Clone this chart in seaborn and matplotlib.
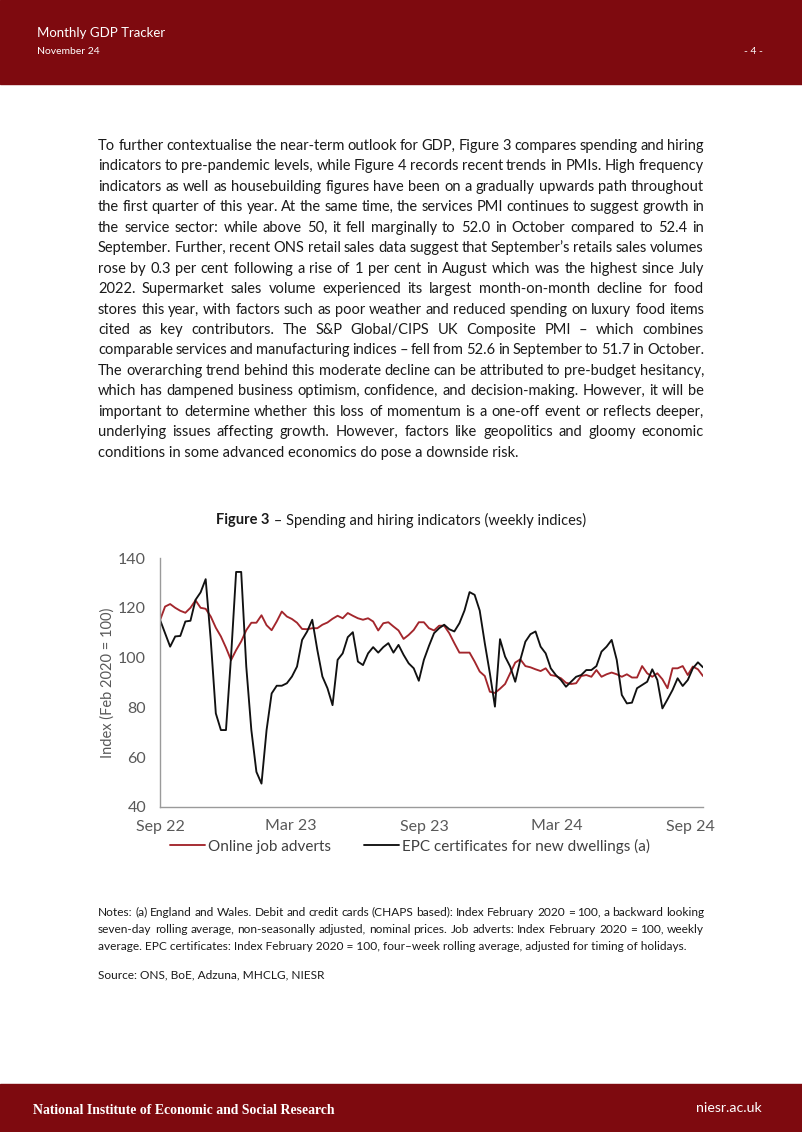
import math

import matplotlib
matplotlib.use("Agg")
import matplotlib.pyplot as plt
import matplotlib.dates as mdates
import pandas as pd
import seaborn as sns
from matplotlib.font_manager import FontProperties
from matplotlib.lines import Line2D
from matplotlib.patches import Rectangle

W, H = 802, 1132
DARK_RED = "#7e0a0f"
JOB_RED = "#a3262c"
BODY = "#1a1a1a"

# --- chart data (weekly indices, Feb 2020 = 100) ---
start_week = "2022-09-01"
job_adverts = [
    115.0, 120.5, 121.5, 120.0, 118.8, 118.0, 120.0, 123.0, 120.0, 119.6,
    116.5, 112.0, 108.5, 104.0, 99.0, 103.0, 106.5, 111.0, 114.0, 114.0,
    117.0, 113.0, 111.0, 114.5, 118.5, 116.5, 115.5, 114.0, 111.5, 111.4,
    111.8, 111.8, 113.2, 114.1, 115.6, 116.8, 115.8, 117.9, 116.8, 115.8,
    115.2, 115.8, 114.5, 110.9, 113.8, 114.2, 112.5, 110.9, 107.5, 109.1,
    111.1, 114.2, 114.2, 111.8, 110.9, 112.8, 112.8, 109.8, 105.8, 102.0,
    102.0, 102.0, 98.4, 94.4, 92.6, 86.3, 85.8, 87.5, 89.4, 93.7,
    98.0, 99.3, 96.6, 96.1, 95.3, 94.6, 95.7, 93.0, 92.6, 91.7,
    89.9, 89.4, 89.7, 92.6, 93.0, 92.3, 95.0, 92.3, 93.3, 94.0,
    93.3, 92.3, 93.3, 92.0, 92.0, 96.6, 93.7, 92.3, 93.7, 91.3,
    87.7, 95.7, 95.7, 96.6, 93.0, 96.4, 95.3, 92.6,
]
epc_certificates = [
    115.2, 109.8, 104.4, 108.5, 108.7, 114.5, 114.8, 123.2, 126.2, 131.5,
    107.1, 77.6, 70.9, 70.9, 100.4, 134.4, 134.4, 96.4, 70.9, 54.1,
    49.4, 70.9, 85.6, 88.7, 88.7, 89.7, 92.4, 96.4, 107.1, 110.5,
    115.2, 103.1, 92.4, 87.7, 80.9, 99.1, 101.7, 108.2, 110.2, 98.4,
    97.0, 101.7, 104.2, 102.0, 104.2, 105.8, 102.0, 105.1, 101.1, 97.7,
    95.7, 90.7, 99.1, 104.7, 109.8, 111.8, 113.2, 111.4, 110.5, 113.8,
    118.9, 126.3, 125.2, 118.9, 105.8, 93.7, 80.3, 107.4, 100.4, 96.4,
    90.3, 99.1, 106.4, 109.4, 110.5, 104.4, 101.7, 95.7, 93.0, 91.0,
    88.3, 90.3, 92.3, 93.0, 95.0, 95.0, 96.6, 102.4, 104.4, 107.1,
    99.1, 85.0, 81.6, 81.9, 87.7, 89.0, 90.3, 95.3, 91.0, 79.6,
    83.2, 87.0, 91.7, 88.6, 91.0, 95.7, 98.1, 96.1,
]
series_names = ["Online job adverts", "EPC certificates for new dwellings (a)"]
tick_dates = ["2022-09-01", "2023-03-01", "2023-09-01", "2024-03-01", "2024-09-01"]
y_ticks = [40, 60, 80, 100, 120, 140]

# --- page text ---
header_title = "Monthly GDP Tracker"
header_date = "November 24"
page_number = "- 4 -"
footer_left = "National Institute of Economic and Social Research"
footer_right = "niesr.ac.uk"
body_lines = [
    "To further contextualise the near-term outlook for GDP, Figure 3 compares spending and hiring",
    "indicators to pre-pandemic levels, while Figure 4 records recent trends in PMIs. High frequency",
    "indicators as well as housebuilding figures have been on a gradually upwards path throughout",
    "the first quarter of this year. At the same time, the services PMI continues to suggest growth in",
    "the service sector: while above 50, it fell marginally to 52.0 in October compared to 52.4 in",
    "September. Further, recent ONS retail sales data suggest that September\u2019s retails sales volumes",
    "rose by 0.3 per cent following a rise of 1 per cent in August which was the highest since July",
    "2022. Supermarket sales volume experienced its largest month-on-month decline for food",
    "stores this year, with factors such as poor weather and reduced spending on luxury food items",
    "cited as key contributors. The S&P Global/CIPS UK Composite PMI \u2013 which combines",
    "comparable services and manufacturing indices \u2013 fell from 52.6 in September to 51.7 in October.",
    "The overarching trend behind this moderate decline can be attributed to pre-budget hesitancy,",
    "which has dampened business optimism, confidence, and decision-making. However, it will be",
    "important to determine whether this loss of momentum is a one-off event or reflects deeper,",
    "underlying issues affecting growth. However, factors like geopolitics and gloomy economic",
    "conditions in some advanced economics do pose a downside risk.",
]
note_lines = [
    "Notes: (a) England and Wales.  Debit and credit cards (CHAPS based): Index February 2020 = 100, a backward looking",
    "seven-day rolling average, non-seasonally adjusted, nominal prices. Job adverts: Index February 2020 = 100, weekly",
    "average. EPC certificates: Index February 2020 = 100, four\u2013week rolling average, adjusted for timing of holidays.",
]
source_line = "Source: ONS, BoE, Adzuna, MHCLG, NIESR"


def fx(x):
    return x / W


def fy(y):
    return 1 - y / H


def justify(fig, renderer, line, x0, x1, y, size, last=False):
    # last line of a paragraph stays ragged
    if last:
        fig.text(fx(x0), fy(y), line, fontsize=size, color=BODY, va="baseline")
        return
    prop = FontProperties(family="Lato", size=size)
    words = line.split()
    metrics = [renderer.get_text_width_height_descent(w, prop, ismath=False) for w in words]
    gap = (x1 - x0 - sum(m[0] for m in metrics)) / (len(words) - 1)
    x = x0
    for word, (w, h, d) in zip(words, metrics):
        # Agg rounds each word's bitmap on its own; nudge so every baseline lands on row y
        shift = math.floor(h) - math.floor(h - d) - d
        fig.text(fx(x), fy(y + shift), word, fontproperties=prop, color=BODY, va="baseline")
        x += w + gap


def main():
    sns.set_style("white")
    plt.rcParams["font.family"] = "Lato"

    fig = plt.figure(figsize=(W / 100, H / 100), dpi=100)
    renderer = fig.canvas.get_renderer()

    # header and footer bands
    fig.patches.append(Rectangle((0, fy(84)), 1, 84 / H, transform=fig.transFigure,
                                 color=DARK_RED, zorder=0))
    fig.patches.append(Rectangle((0, 0), 1, (H - 1084) / H, transform=fig.transFigure,
                                 color=DARK_RED, zorder=0))
    fig.text(fx(37), fy(33), header_title, color="white", fontsize=9.5, va="center")
    fig.text(fx(37), fy(52), header_date, color="white", fontsize=7.5, va="center")
    fig.text(fx(753), fy(52), page_number, color="white", fontsize=7.5, va="center", ha="center")
    fig.text(fx(33), fy(1111), footer_left, color="white", fontsize=9.9, va="center",
             family="Liberation Serif", fontweight="bold")
    fig.text(fx(762), fy(1108), footer_right, color="white", fontsize=10.2, va="center", ha="right")

    # body paragraph (justified)
    for i, line in enumerate(body_lines):
        justify(fig, renderer, line, 98, 704, round(150 + 20.45 * i), 10.5,
                last=(i == len(body_lines) - 1))

    # figure title
    t1 = fig.text(0, fy(520), "Figure 3", fontsize=10.5, fontweight="bold", color=BODY, va="center")
    t2 = fig.text(0, fy(520), " \u2013 Spending and hiring indicators (weekly indices)",
                  fontsize=10.5, color=BODY, va="center")
    w1 = t1.get_window_extent(renderer).width
    w2 = t2.get_window_extent(renderer).width
    left = 401 - (w1 + w2) / 2
    t1.set_x(fx(left))
    t2.set_x(fx(left + w1))

    # chart
    dates = pd.date_range(start=start_week, periods=len(job_adverts), freq="7D")
    df = pd.DataFrame({
        "date": list(dates) * 2,
        "value": job_adverts + epc_certificates,
        "series": [series_names[0]] * len(dates) + [series_names[1]] * len(dates),
    })
    ax = fig.add_axes([fx(160), fy(807), (703 - 160) / W, (807 - 558) / H])
    sns.lineplot(data=df, x="date", y="value", hue="series", ax=ax,
                 palette=[JOB_RED, "#111111"], linewidth=1.35, legend=False)
    ax.set_xlim(dates[0], dates[-1])
    ax.set_ylim(40, 140)
    ax.set_yticks(y_ticks)
    ax.set_xticks(pd.to_datetime(tick_dates))
    ax.xaxis.set_major_formatter(mdates.DateFormatter("%b %y"))
    for side in ["top", "right"]:
        ax.spines[side].set_visible(False)
    for side in ["left", "bottom"]:
        ax.spines[side].set_color("#9a9a9a")
        ax.spines[side].set_linewidth(1.0)
    ax.tick_params(axis="x", direction="in", length=5, color="#9a9a9a", pad=9,
                   labelsize=11.5, labelcolor="#595959")
    ax.tick_params(axis="y", length=0, pad=10, labelsize=11.5, labelcolor="#595959")
    ax.set_xlabel("")
    ax.set_ylabel("Index (Feb 2020 = 100)", fontsize=10.5, color="#595959")
    ax.yaxis.set_label_coords(-0.083, 0.5)
    ax.grid(False)

    handles = [Line2D([], [], color=JOB_RED, linewidth=1.35),
               Line2D([], [], color="#111111", linewidth=1.35)]
    fig.legend(handles, series_names, loc="center", bbox_to_anchor=(fx(410), fy(846)),
               ncol=2, frameon=False, fontsize=11, labelcolor="#404040",
               handlelength=2.3, handletextpad=0.15, columnspacing=2.2)

    # notes
    for i, line in enumerate(note_lines):
        justify(fig, renderer, line, 98, 704, 916 + 17 * i, 8.6, last=(i == len(note_lines) - 1))
    fig.text(fx(98), fy(978), source_line, fontsize=8.6, color=BODY, va="baseline")

    fig.savefig("out.png", dpi=100)
    plt.close(fig)


if __name__ == "__main__":
    main()
